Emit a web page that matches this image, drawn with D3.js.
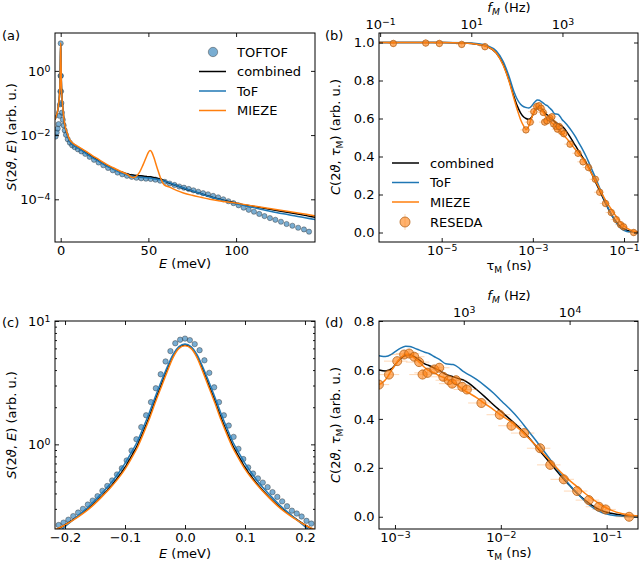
<!DOCTYPE html>
<html>
<head>
<meta charset="utf-8">
<script src="https://cdn.jsdelivr.net/npm/d3@7"></script>
<style>
  body { margin: 0; background: #fff; }
  svg { font-family: "DejaVu Sans", sans-serif; }
</style>
</head>
<body>
<div id="chart"></div>
<script>
// ---------- data: panel (a), wide energy range ----------
const tofE_a = [-2.9, -2.3, -1.7, -1.2, -0.7, -0.4, -0.2, -0.1, 0, 0.1, 0.2, 0.4, 0.7, 1.2, 1.7, 2.3,
  3.0, 4.0, 5.2, 6.5, 8.0, 9.8, 11.8, 14.0, 16.5, 19.0, 21.6, 24.3, 27.0, 29.7, 32.4, 35.1, 37.8,
  40.5, 43.2, 45.9, 48.6, 51.3, 54.0, 56.7, 59.4, 62.1, 64.9, 67.6, 70.3, 73.0, 75.7, 78.4, 81.2,
  84.0, 86.9, 89.8, 92.7, 95.6, 98.5, 101.4, 104.3, 107.2, 110.2, 113.2, 116.2, 119.3, 122.4,
  125.6, 128.8, 132.1, 135.4, 138.7, 141.6];
const tofS_a = [0.009, 0.012, 0.016, 0.022, 0.04, 0.09, 0.23, 0.7, 7.2, 0.7, 0.23, 0.1, 0.05, 0.03, 0.02, 0.014,
  0.0102, 0.0074, 0.0058, 0.0048, 0.0042, 0.0036, 0.0031, 0.0026, 0.0021, 0.0017, 0.0014, 0.00115, 0.00095, 0.0008, 0.00068, 0.0006, 0.00054,
  0.0005, 0.00047, 0.00045, 0.00044, 0.00043, 0.00041, 0.00038, 0.00035, 0.00031, 0.00028, 0.00025, 0.00023, 0.00021, 0.00019, 0.000172, 0.000155,
  0.000143, 0.000128, 0.000115, 0.0001, 0.000087, 0.000076, 0.000065, 0.000055, 0.000047, 0.000041, 0.000035, 0.00003, 0.000026, 0.000023,
  0.00002, 0.000017, 0.000015, 0.000013, 0.0000115, 0.0000098];

const lineE_a = [-3.3, -2.5, -1.8, -1.2, -0.7, -0.35, -0.15, 0, 0.15, 0.35, 0.7, 1.2, 1.8, 2.5, 3.5, 5, 7, 10,
  14, 18, 22, 26, 30, 34, 38, 41, 43, 45, 47, 49, 50, 51, 52, 53, 55, 57, 59, 62, 66, 70, 75, 80, 85, 90,
  95, 100, 110, 120, 130, 140, 146];
const combS_a = [0.03, 0.04, 0.055, 0.09, 0.17, 0.5, 2.5, 7.0, 2.5, 0.5, 0.16, 0.07, 0.032, 0.018, 0.0115, 0.0068, 0.0051, 0.004,
  0.0029, 0.0021, 0.00155, 0.00114, 0.0009, 0.00073, 0.00062, 0.00057, 0.00055, 0.00054, 0.00053, 0.00051, 0.0005, 0.0005, 0.00049, 0.00048, 0.00045, 0.00042, 0.00038, 0.00032, 0.00027, 0.00022, 0.00018, 0.000148, 0.000122, 0.000102,
  0.000087, 0.000076, 0.00006, 0.000048, 0.000039, 0.000031, 0.000027];
const tofLineS_a = [0.03, 0.04, 0.055, 0.09, 0.17, 0.5, 2.5, 7.0, 2.5, 0.5, 0.16, 0.07, 0.032, 0.018, 0.0112, 0.0066, 0.005, 0.0039,
  0.0028, 0.002, 0.0015, 0.0011, 0.00086, 0.00068, 0.00057, 0.00052, 0.0005, 0.00049, 0.00048, 0.00047, 0.00046, 0.00046, 0.00045, 0.00044, 0.00042, 0.0004, 0.00037, 0.00033, 0.00027, 0.000225, 0.000182, 0.000148, 0.00012, 0.0001,
  0.000084, 0.000072, 0.000055, 0.000042, 0.000033, 0.000026, 0.000023];
const miezeS_a = [0.03, 0.04, 0.055, 0.09, 0.17, 0.5, 2.5, 7.5, 2.5, 0.5, 0.16, 0.07, 0.034, 0.019, 0.0125, 0.0075, 0.0056, 0.0044,
  0.0032, 0.0023, 0.0017, 0.00124, 0.00096, 0.00075, 0.0006, 0.00048, 0.00052, 0.0007, 0.0012, 0.0022, 0.0029, 0.0033, 0.0029, 0.0021, 0.00095, 0.00045, 0.00028, 0.00024, 0.00019, 0.000158, 0.000133, 0.000115, 0.0001, 0.00009,
  0.000082, 0.000076, 0.000062, 0.000051, 0.000042, 0.000034, 0.00003];

// ---------- data: panel (c), elastic line ----------
const tofE_c = [-0.2106, -0.2025, -0.1944, -0.1863, -0.1782, -0.1701, -0.1620, -0.1539, -0.1458, -0.1377, -0.1296,
  -0.1215, -0.1134, -0.1053, -0.0972, -0.0891, -0.0810, -0.0729, -0.0648, -0.0567, -0.0486, -0.0405, -0.0324,
  -0.0243, -0.0162, -0.0081, 0, 0.0081, 0.0162, 0.0243, 0.0324, 0.0405, 0.0486, 0.0567, 0.0648, 0.0729, 0.0810,
  0.0891, 0.0972, 0.1053, 0.1134, 0.1215, 0.1296, 0.1377, 0.1458, 0.1539, 0.1620, 0.1701, 0.1782, 0.1863, 0.1944,
  0.2025, 0.2106];
const tofS_c = [0.222, 0.232, 0.245, 0.262, 0.28, 0.3, 0.325, 0.35, 0.38, 0.42, 0.46,
  0.51, 0.57, 0.64, 0.74, 0.89, 1.1, 1.38, 1.72, 2.2, 2.85, 3.7, 4.7,
  5.7, 6.6, 7.05, 7.2, 7.0, 6.5, 5.8, 4.8, 3.8, 2.9, 2.2, 1.72, 1.42, 1.15,
  0.92, 0.76, 0.65, 0.58, 0.53, 0.49, 0.45, 0.41, 0.375, 0.345, 0.315, 0.29, 0.275, 0.26,
  0.24, 0.228];

const lineE_c = [-0.23, -0.2, -0.18, -0.16, -0.14, -0.12, -0.1, -0.09, -0.08, -0.07, -0.06, -0.05, -0.04, -0.03, -0.02, -0.01, 0,
  0.01, 0.02, 0.03, 0.04, 0.05, 0.06, 0.07, 0.08, 0.09, 0.1, 0.12, 0.14, 0.16, 0.18, 0.2, 0.23];
const combS_c = [0.185, 0.222, 0.258, 0.305, 0.375, 0.48, 0.65, 0.79, 0.97, 1.25, 1.65, 2.25, 3.0, 4.0, 5.2, 6.1, 6.4,
  6.1, 5.2, 4.0, 3.0, 2.25, 1.65, 1.25, 0.97, 0.79, 0.65, 0.48, 0.375, 0.305, 0.258, 0.222, 0.185];
const tofLineS_c = [0.165, 0.215, 0.26, 0.315, 0.395, 0.51, 0.7, 0.85, 1.04, 1.35, 1.78, 2.4, 3.2, 4.2, 5.35, 6.2, 6.5,
  6.2, 5.35, 4.2, 3.2, 2.4, 1.78, 1.35, 1.04, 0.85, 0.7, 0.51, 0.395, 0.315, 0.26, 0.215, 0.165];
const miezeS_c = [0.19, 0.222, 0.255, 0.3, 0.37, 0.47, 0.63, 0.76, 0.93, 1.2, 1.58, 2.15, 2.88, 3.85, 5.05, 6.0, 6.3,
  6.0, 5.05, 3.85, 2.88, 2.15, 1.58, 1.2, 0.93, 0.76, 0.63, 0.47, 0.37, 0.3, 0.255, 0.222, 0.19];

// ---------- data: panels (b) and (d), intermediate scattering function ----------
const tauM = [3.98e-7, 1e-5, 3.16e-5, 6.31e-5, 1e-4, 1.58e-4, 2.24e-4, 3.02e-4, 3.80e-4, 4.57e-4, 5.37e-4,
  6.31e-4, 7.08e-4, 8.13e-4, 9.33e-4, 1.02e-3, 1.12e-3, 1.26e-3, 1.38e-3, 1.51e-3, 1.70e-3, 1.91e-3, 2.09e-3,
  2.34e-3, 2.63e-3, 3.02e-3, 3.55e-3, 3.98e-3, 4.37e-3, 5.01e-3, 5.89e-3, 7.08e-3, 8.51e-3, 1.02e-2, 1.23e-2,
  1.48e-2, 1.74e-2, 2.09e-2, 2.51e-2, 3.02e-2, 3.63e-2, 4.37e-2, 5.25e-2, 6.31e-2, 7.59e-2, 9.12e-2, 0.110,
  0.141, 0.200];
const combC = [1.0, 1.0, 0.998, 0.99, 0.978, 0.945, 0.885, 0.80, 0.72, 0.665, 0.63,
  0.608, 0.600, 0.596, 0.605, 0.625, 0.645, 0.66, 0.663, 0.655, 0.64, 0.625, 0.618,
  0.608, 0.598, 0.582, 0.572, 0.565, 0.56, 0.545, 0.52, 0.49, 0.458, 0.428, 0.397,
  0.366, 0.335, 0.295, 0.253, 0.212, 0.171, 0.132, 0.096, 0.066, 0.041, 0.024, 0.014,
  0.006, 0.002];
const tofC = [1.0, 1.0, 0.999, 0.993, 0.983, 0.955, 0.9, 0.82, 0.745, 0.7, 0.675,
  0.662, 0.658, 0.655, 0.665, 0.677, 0.688, 0.697, 0.696, 0.69, 0.681, 0.672, 0.667,
  0.655, 0.643, 0.625, 0.622, 0.61, 0.595, 0.58, 0.561, 0.535, 0.506, 0.472, 0.438,
  0.40, 0.362, 0.318, 0.273, 0.226, 0.178, 0.135, 0.096, 0.062, 0.034, 0.016, 0.007,
  0.002, 0.0];
const miezeC = [1.0, 1.0, 0.998, 0.99, 0.978, 0.945, 0.88, 0.795, 0.71, 0.645, 0.595,
  0.56, 0.542, 0.56, 0.60, 0.625, 0.648, 0.663, 0.66, 0.65, 0.632, 0.61, 0.597,
  0.588, 0.576, 0.565, 0.548, 0.535, 0.52, 0.505, 0.487, 0.462, 0.438, 0.413, 0.39,
  0.36, 0.331, 0.296, 0.26, 0.222, 0.185, 0.152, 0.123, 0.094, 0.068, 0.045, 0.027,
  0.012, 0.003];

const resedaTau = [8.7e-7, 4.47e-6, 8.9e-6, 2.75e-5, 8.9e-5,
  7.05e-4, 8.77e-4, 1.05e-3, 1.22e-3, 1.36e-3, 1.52e-3, 1.69e-3, 1.82e-3, 2.03e-3, 2.35e-3,
  2.62e-3, 2.86e-3, 3.22e-3, 3.47e-3, 3.78e-3, 4.32e-3, 4.78e-3, 6.55e-3, 9.77e-3, 1.26e-2,
  1.66e-2, 2.35e-2, 2.93e-2, 3.93e-2, 5.26e-2, 6.79e-2, 8.45e-2, 9.77e-2, 0.163];
const resedaC = [0.995, 0.997, 0.995, 0.99, 0.978,
  0.540, 0.581, 0.636, 0.663, 0.667, 0.654, 0.632, 0.581, 0.588, 0.602,
  0.609, 0.572, 0.558, 0.544, 0.558, 0.531, 0.520, 0.465, 0.417, 0.372,
  0.342, 0.280, 0.212, 0.153, 0.105, 0.068, 0.041, 0.030, 0.000];
const resedaTauErrRel = 0.25;   // relative error on tau
const resedaCErr = 0.02;

// f_M (Hz) per tau_M (ns) for the top axes
const fPerTau = 2.24e5;

// ---------- layout ----------
const W = 640, H = 565;
const FS = 13;
const blue = "#1f77b4", orange = "#ff7f0e";
const svg = d3.select("#chart").append("svg").attr("width", W).attr("height", H);
const defs = svg.append("defs");

function makePanel(id, x0, x1, y0, y1, x, y) {
  x.range([x0, x1]);
  y.range([y1, y0]);
  defs.append("clipPath").attr("id", "clip-" + id)
    .append("rect").attr("x", x0).attr("y", y0).attr("width", x1 - x0).attr("height", y1 - y0);
  const plot = svg.append("g").attr("clip-path", "url(#clip-" + id + ")");
  return { id, x0, x1, y0, y1, x, y, plot };
}

const pa = makePanel("a", 55, 315, 33, 242,
  d3.scaleLinear().domain([-3.25, 145]), d3.scaleLog().domain([10 ** -5.33, 10 ** 1.18]));
const pb = makePanel("b", 379, 638, 33, 242,
  d3.scaleLog().domain([10 ** -6.375, 10 ** -0.693]), d3.scaleLinear().domain([-0.05, 1.05]));
const pc = makePanel("c", 55, 315, 321, 529,
  d3.scaleLinear().domain([-0.2167, 0.2167]), d3.scaleLog().domain([0.206, 10]));
const pd = makePanel("d", 379, 638, 321, 529,
  d3.scaleLog().domain([10 ** -3.151, 10 ** -0.704]), d3.scaleLinear().domain([-0.05, 0.8]));

// ---------- helpers ----------
function powLabels(g) {
  g.selectAll(".tick text").each(function (d) {
    const e = Math.round(Math.log10(d));
    const t = d3.select(this).text("10");
    t.append("tspan").attr("dy", "-0.42em").attr("font-size", "0.72em")
      .text(e < 0 ? "\u2212" + (-e) : String(e));
  });
}

function axis(p, side, scale, values, fmt, size) {
  const gen = { bottom: d3.axisBottom, top: d3.axisTop, left: d3.axisLeft, right: d3.axisRight }[side](scale)
    .tickValues(values).tickSizeInner(-(size || 4)).tickSizeOuter(0)
    .tickPadding(side === "left" || side === "right" ? 4.5 : 4)
    .tickFormat(fmt || (() => ""));
  const tr = side === "bottom" ? [0, p.y1] : side === "top" ? [0, p.y0] : side === "left" ? [p.x0, 0] : [p.x1, 0];
  const g = svg.append("g").attr("transform", "translate(" + tr + ")").call(gen)
    .attr("font-size", FS).attr("font-family", "'DejaVu Sans', sans-serif");
  g.select(".domain").remove();
  g.selectAll("line").attr("stroke", "#000").attr("stroke-width", 0.9);
  g.selectAll("text").attr("fill", "#000");
  return g;
}

function frame(p) {
  svg.append("rect").attr("x", p.x0).attr("y", p.y0).attr("width", p.x1 - p.x0).attr("height", p.y1 - p.y0)
    .attr("fill", "none").attr("stroke", "#000").attr("stroke-width", 1);
}

function drawLine(p, xs, ys, color) {
  const line = d3.line().x((d, i) => p.x(xs[i])).y((d, i) => p.y(ys[i])).curve(d3.curveMonotoneX);
  p.plot.append("path").attr("d", line(xs)).attr("fill", "none")
    .attr("stroke", color).attr("stroke-width", 1.5).attr("stroke-linejoin", "round");
}

function tofDots(p, xs, ys, r) {
  p.plot.selectAll("circle.tof").data(xs).join("circle").attr("class", "tof")
    .attr("cx", d => p.x(d)).attr("cy", (d, i) => p.y(ys[i])).attr("r", r)
    .attr("fill", blue).attr("fill-opacity", 0.6)
    .attr("stroke", "#333").attr("stroke-opacity", 0.55).attr("stroke-width", 0.8);
}

function resedaDots(p, r) {
  const g = p.plot.append("g");
  resedaTau.forEach((t, i) => {
    const cx = p.x(t), cy = p.y(resedaC[i]);
    g.append("line").attr("x1", p.x(t * (1 - resedaTauErrRel))).attr("x2", p.x(t * (1 + resedaTauErrRel)))
      .attr("y1", cy).attr("y2", cy).attr("stroke", orange).attr("stroke-opacity", 0.3).attr("stroke-width", 1);
    g.append("line").attr("x1", cx).attr("x2", cx)
      .attr("y1", p.y(resedaC[i] - resedaCErr)).attr("y2", p.y(resedaC[i] + resedaCErr))
      .attr("stroke", orange).attr("stroke-opacity", 0.3).attr("stroke-width", 1);
  });
  g.selectAll("circle").data(resedaTau).join("circle")
    .attr("cx", d => p.x(d)).attr("cy", (d, i) => p.y(resedaC[i])).attr("r", r)
    .attr("fill", orange).attr("fill-opacity", 0.6)
    .attr("stroke", "#b5651d").attr("stroke-width", 0.8);
}

// rich text: parts = [[text, style]], style: "" | "i" | "sub" | "isub"
function rich(sel, parts, fs) {
  let shifted = 0;
  parts.forEach(([t, s]) => {
    const sp = sel.append("tspan").text(t);
    const sub = s === "sub" || s === "isub";
    if (s === "i" || s === "isub") sp.attr("font-style", "italic");
    if (sub) {
      sp.attr("font-size", fs * 0.7).attr("dy", 3 - shifted);
      shifted = 3;
    } else if (shifted) {
      sp.attr("dy", -shifted);
      shifted = 0;
    }
  });
}

function label(x, y, parts, rotate, fs) {
  fs = fs || FS;
  const t = svg.append("text").attr("font-size", fs).attr("text-anchor", "middle")
    .attr("transform", "translate(" + x + "," + y + ")" + (rotate ? " rotate(-90)" : ""));
  rich(t, parts, fs);
  return t;
}

const fmt1 = d3.format(".1f");

// ---------- panel (a) ----------
tofDots(pa, tofE_a, tofS_a, 2.6);
drawLine(pa, lineE_a, combS_a, "#000");
drawLine(pa, lineE_a, tofLineS_a, blue);
drawLine(pa, lineE_a, miezeS_a, orange);
frame(pa);
axis(pa, "bottom", pa.x, [0, 50, 100], d3.format("d"));
axis(pa, "top", pa.x, [0, 50, 100]);
powLabels(axis(pa, "left", pa.y, [1e-4, 1e-2, 1], d => d));
axis(pa, "right", pa.y, [1e-4, 1e-2, 1]);

// ---------- panel (b) ----------
drawLine(pb, tauM, combC, "#000");
drawLine(pb, tauM, tofC, blue);
drawLine(pb, tauM, miezeC, orange);
resedaDots(pb, 3.2);
frame(pb);
powLabels(axis(pb, "bottom", pb.x, [1e-5, 1e-3, 1e-1], d => d));
const fTopB = pb.x.copy().domain(pb.x.domain().map(t => t * fPerTau));
powLabels(axis(pb, "top", fTopB, [1e-1, 1e1, 1e3], d => d));
axis(pb, "left", pb.y, [0, 0.2, 0.4, 0.6, 0.8, 1.0], fmt1);
axis(pb, "right", pb.y, [0, 0.2, 0.4, 0.6, 0.8, 1.0]);

// ---------- panel (c) ----------
tofDots(pc, tofE_c, tofS_c, 2.7);
drawLine(pc, lineE_c, combS_c, "#000");
drawLine(pc, lineE_c, tofLineS_c, blue);
drawLine(pc, lineE_c, miezeS_c, orange);
frame(pc);
const xt_c = [-0.2, -0.1, 0, 0.1, 0.2];
axis(pc, "bottom", pc.x, xt_c, fmt1);
axis(pc, "top", pc.x, xt_c);
powLabels(axis(pc, "left", pc.y, [1, 10], d => d));
axis(pc, "right", pc.y, [1, 10]);
const minor_c = [0.3, 0.4, 0.5, 0.6, 0.7, 0.8, 0.9, 2, 3, 4, 5, 6, 7, 8, 9];
axis(pc, "left", pc.y, minor_c, null, 2);
axis(pc, "right", pc.y, minor_c, null, 2);

// ---------- panel (d) ----------
drawLine(pd, tauM, combC, "#000");
drawLine(pd, tauM, tofC, blue);
drawLine(pd, tauM, miezeC, orange);
resedaDots(pd, 4.5);
frame(pd);
powLabels(axis(pd, "bottom", pd.x, [1e-3, 1e-2, 1e-1], d => d));
const fTopD = pd.x.copy().domain(pd.x.domain().map(t => t * fPerTau));
powLabels(axis(pd, "top", fTopD, [1e3, 1e4], d => d));
axis(pd, "left", pd.y, [0, 0.2, 0.4, 0.6, 0.8], fmt1);
axis(pd, "right", pd.y, [0, 0.2, 0.4, 0.6, 0.8]);

// ---------- axis titles ----------
const sLabel = [["S", "i"], ["(2", ""], ["\u03D1", "i"], [", ", ""], ["E", "i"], [") (arb. u.)", ""]];
const cLabel = [["C", "i"], ["(2", ""], ["\u03D1", "i"], [", ", ""], ["\u03C4", "i"], ["M", "sub"], [") (arb. u.)", ""]];
const eLabel = [["E", "i"], [" (meV)", ""]];
const tLabel = [["\u03C4", ""], ["M", "sub"], [" (ns)", ""]];
const fLabel = [["f", "i"], ["M", "isub"], [" (Hz)", ""]];

label(16, 137, sLabel, true);
label(16, 425, sLabel, true);
label(340, 137, cLabel, true);
label(340, 425, cLabel, true);
label(185, 268, eLabel);
label(185, 558, eLabel);
label(509, 270, tLabel);
label(509, 557, tLabel);
label(509, 12, fLabel);
label(509, 300, fLabel);

svg.append("text").attr("x", 2).attr("y", 40).attr("font-size", FS).text("(a)");
svg.append("text").attr("x", 325).attr("y", 40).attr("font-size", FS).text("(b)");
svg.append("text").attr("x", 2).attr("y", 327).attr("font-size", FS).text("(c)");
svg.append("text").attr("x", 325).attr("y", 327).attr("font-size", FS).text("(d)");

// ---------- legends ----------
function legendLine(x, y, color, text) {
  svg.append("line").attr("x1", x).attr("x2", x + 27).attr("y1", y).attr("y2", y)
    .attr("stroke", color).attr("stroke-width", 1.5);
  svg.append("text").attr("x", x + 38).attr("y", y).attr("dy", "0.35em").attr("font-size", FS).text(text);
}
// (a)
svg.append("circle").attr("cx", 213).attr("cy", 52).attr("r", 4.7)
  .attr("fill", blue).attr("fill-opacity", 0.6).attr("stroke", "#333").attr("stroke-opacity", 0.55).attr("stroke-width", 0.8);
svg.append("text").attr("x", 237).attr("y", 52).attr("dy", "0.35em").attr("font-size", FS).text("TOFTOF");
legendLine(199, 71.5, "#000", "combined");
legendLine(199, 91, blue, "ToF");
legendLine(199, 110.5, orange, "MIEZE");
// (b)
legendLine(392, 163, "#000", "combined");
legendLine(392, 182.5, blue, "ToF");
legendLine(392, 202, orange, "MIEZE");
svg.append("line").attr("x1", 405).attr("x2", 405).attr("y1", 214).attr("y2", 230)
  .attr("stroke", orange).attr("stroke-opacity", 0.3);
svg.append("circle").attr("cx", 405).attr("cy", 222).attr("r", 5)
  .attr("fill", orange).attr("fill-opacity", 0.6).attr("stroke", "#b5651d").attr("stroke-width", 0.8);
svg.append("text").attr("x", 430).attr("y", 222).attr("dy", "0.35em").attr("font-size", FS).text("RESEDA");
</script>
</body>
</html>
